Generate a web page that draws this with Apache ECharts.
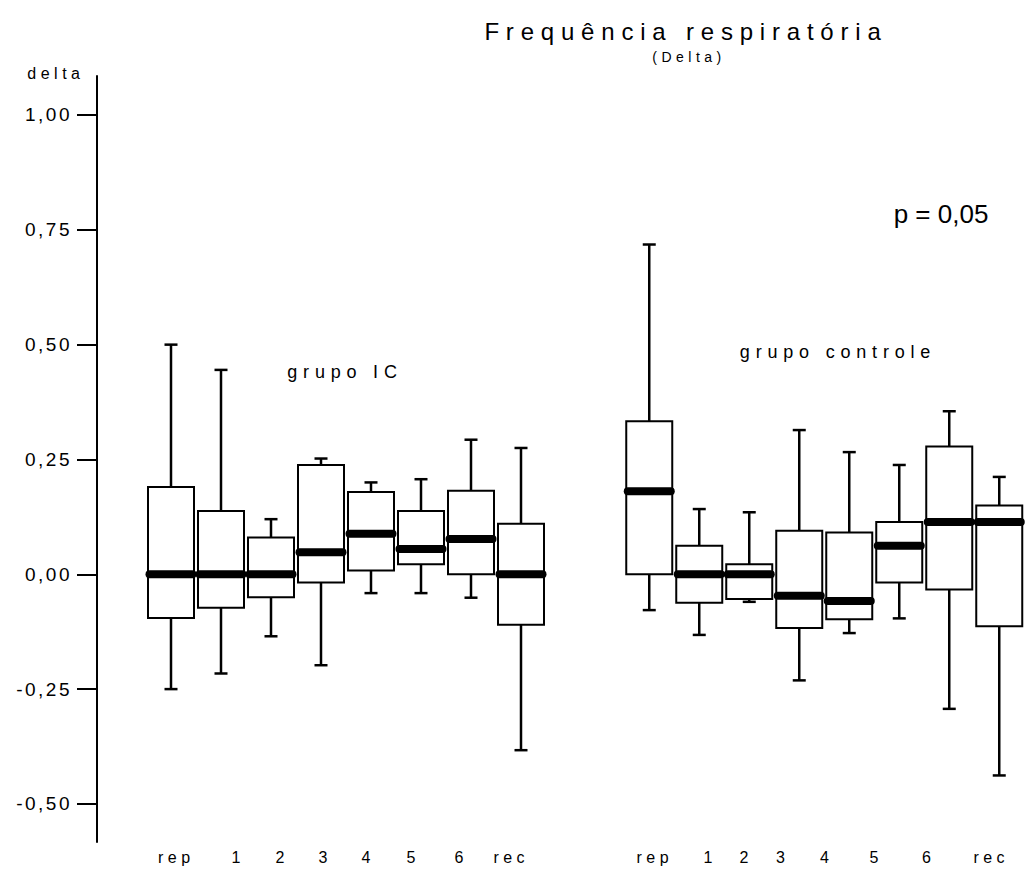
<!DOCTYPE html>
<html>
<head>
<meta charset="utf-8">
<title>Frequência respiratória (Delta)</title>
<style>
  html, body { margin: 0; padding: 0; background: #ffffff; }
  #chart { width: 1025px; height: 869px; }
  /* widely tracked lettering, keyed on each text size */
  #chart text[style*="24px"] { letter-spacing: 6.8px; }
  #chart text[style*="14px"] { letter-spacing: 4.5px; }
  #chart text[style*="19px"] { letter-spacing: 2.5px; }
  #chart text[style*="16px"] { letter-spacing: 4.5px; }
  #chart text[style*="18px"] { letter-spacing: 5.8px; }
</style>
<script src="https://cdn.jsdelivr.net/npm/echarts@6.0.0/dist/echarts.min.js"></script>
</head>
<body>
<div id="chart"></div>
<script>
// Measurement moments, same for both groups
const stages = ['rep', '1', '2', '3', '4', '5', '6', 'rec'];
const groupNames = ['grupo IC', 'grupo controle'];

// grupo IC: whisker ends, quartiles and medians
const icMax    = [0.500, 0.445, 0.120, 0.252, 0.200, 0.207, 0.293, 0.275];
const icQ3     = [0.190, 0.138, 0.080, 0.238, 0.179, 0.138, 0.182, 0.110];
const icMedian = [0.000, 0.000, 0.000, 0.048, 0.088, 0.055, 0.077, 0.000];
const icQ1     = [-0.095, -0.073, -0.050, -0.018, 0.008, 0.022, 0.000, -0.110];
const icMin    = [-0.250, -0.216, -0.135, -0.198, -0.041, -0.041, -0.051, -0.383];

// grupo controle
const ctrlMax    = [0.718, 0.142, 0.135, 0.314, 0.266, 0.238, 0.355, 0.212];
const ctrlQ3     = [0.333, 0.062, 0.022, 0.095, 0.091, 0.114, 0.278, 0.150];
const ctrlMedian = [0.181, 0.000, 0.000, -0.047, -0.058, 0.062, 0.114, 0.114];
const ctrlQ1     = [0.000, -0.062, -0.054, -0.117, -0.098, -0.018, -0.033, -0.113];
const ctrlMin    = [-0.078, -0.132, -0.060, -0.231, -0.128, -0.096, -0.293, -0.438];

// y axis tick values and the reported significance
const yTickValues = [-0.5, -0.25, 0, 0.25, 0.5, 0.75, 1];
const pValueText = 'p = 0,05';

// ---- layout (x is measured in box slots) ----
const groupStart = [0, 9.565];          // slot of the first box in each group
const labelSlots = [
  [0.06, 1.30, 2.18, 3.04, 3.90, 4.80, 5.76, 6.76],
  [9.63, 10.74, 11.46, 12.19, 13.07, 14.06, 15.11, 16.36]
];
const boxSlot = 0.92;   // box width in slots
const capSlot = 0.26;   // whisker cap width in slots
const FONT = '"Liberation Sans", Arial, sans-serif';
const INK = '#000000';

const stats = [
  [icMin, icQ1, icMedian, icQ3, icMax],
  [ctrlMin, ctrlQ1, ctrlMedian, ctrlQ3, ctrlMax]
];

const boxData = [];
stats.forEach(function (s, g) {
  stages.forEach(function (name, i) {
    boxData.push({
      name: groupNames[g] + ' ' + name,
      value: [groupStart[g] + i, s[0][i], s[1][i], s[2][i], s[3][i], s[4][i]]
    });
  });
});

const allLabelSlots = labelSlots[0].concat(labelSlots[1]);
function stageLabel(v) {
  for (let k = 0; k < allLabelSlots.length; k++) {
    if (Math.abs(allLabelSlots[k] - v) < 1e-6) return stages[k % stages.length];
  }
  return '';
}

function renderBox(params, api) {
  const x = api.value(0);
  const lo = api.coord([x, api.value(1)]);
  const q1 = api.coord([x, api.value(2)]);
  const md = api.coord([x, api.value(3)]);
  const q3 = api.coord([x, api.value(4)]);
  const hi = api.coord([x, api.value(5)]);
  const half = api.size([boxSlot, 0])[0] / 2;
  const cap = api.size([capSlot, 0])[0] / 2;
  const cx = lo[0];
  const thin = { stroke: INK, lineWidth: 2.5 };
  return {
    type: 'group',
    children: [
      { type: 'line', shape: { x1: cx, y1: q3[1], x2: cx, y2: hi[1] }, style: thin },
      { type: 'line', shape: { x1: cx - cap, y1: hi[1], x2: cx + cap, y2: hi[1] }, style: thin },
      { type: 'line', shape: { x1: cx, y1: q1[1], x2: cx, y2: lo[1] }, style: thin },
      { type: 'line', shape: { x1: cx - cap, y1: lo[1], x2: cx + cap, y2: lo[1] }, style: thin },
      { type: 'rect', shape: { x: cx - half, y: q3[1], width: half * 2, height: q1[1] - q3[1] },
        style: { fill: '#ffffff', stroke: INK, lineWidth: 2 } },
      { type: 'line', shape: { x1: cx - half + 1.5, y1: md[1], x2: cx + half - 1.5, y2: md[1] },
        style: { stroke: INK, lineWidth: 8, lineCap: 'round' } }
    ]
  };
}

function label(text, x, y, size) {
  return {
    type: 'text', x: x, y: y, silent: true,
    style: {
      text: text, fontSize: size, fontFamily: FONT, fill: INK,
      align: 'center', verticalAlign: 'middle',
      textAlign: 'center', textVerticalAlign: 'middle'
    }
  };
}

const chart = echarts.init(document.getElementById('chart'), null, { renderer: 'svg' });
chart.setOption({
  animation: false,
  backgroundColor: '#ffffff',
  grid: { left: 97, right: 0, top: 76, bottom: 27, containLabel: false },
  xAxis: {
    type: 'value', min: -1.48, max: 17.08,
    axisLine: { show: false }, axisTick: { show: false }, splitLine: { show: false },
    axisLabel: {
      customValues: allLabelSlots, formatter: stageLabel,
      fontSize: 16, fontFamily: FONT, color: INK, margin: 7, padding: [0, 0, 0, 4.5]
    }
  },
  yAxis: {
    type: 'value', min: -0.5829, max: 1.0849,
    name: 'delta', nameLocation: 'end', nameGap: 3,
    nameTextStyle: { fontSize: 16, fontFamily: FONT, color: INK, align: 'right',
                     verticalAlign: 'middle', padding: [0, 12.5, 0, 0] },
    axisLine: { show: true, onZero: false, lineStyle: { color: INK, width: 2 } },
    axisTick: { show: true, customValues: yTickValues, length: 20, lineStyle: { color: INK, width: 2 } },
    axisLabel: {
      customValues: yTickValues, margin: 25, fontSize: 19, fontFamily: FONT, color: INK,
      formatter: function (v) { return v.toFixed(2).replace('.', ','); }
    },
    splitLine: { show: false }
  },
  series: [{
    type: 'custom',
    name: 'Frequência respiratória',
    renderItem: renderBox,
    encode: { x: 0, y: [1, 2, 3, 4, 5] },
    data: boxData,
    clip: false
  }],
  graphic: [
    label('Frequência respiratória', 686, 31, 24),
    label('(Delta)', 689, 57, 14),
    label(groupNames[0], 345, 372, 18),
    label(groupNames[1], 838, 352, 18),
    label(pValueText, 941, 214, 26)
  ]
});
</script>
</body>
</html>
